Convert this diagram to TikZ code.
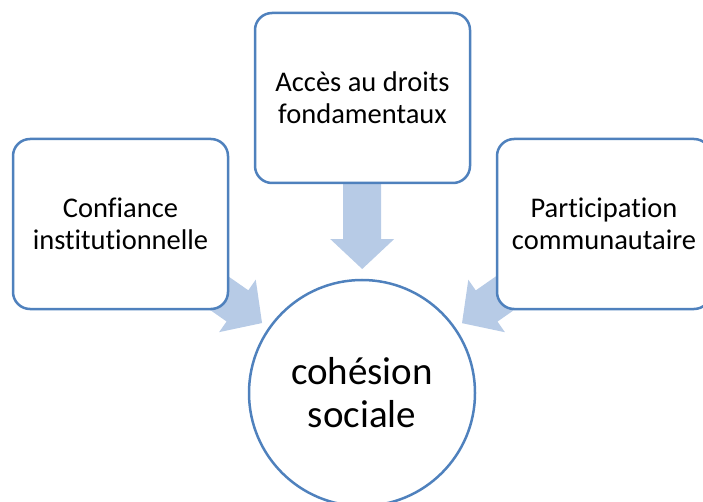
\documentclass[tikz,border=0pt]{standalone}
\usepackage{fontspec}
\setmainfont[RawFeature=-liga]{Carlito}
\usetikzlibrary{calc}
\pgfdeclarelayer{background}
\pgfsetlayers{background,main}
\definecolor{boxblue}{HTML}{4F81BD}
\definecolor{arrowblue}{HTML}{B7CBE6}
\tikzset{
  box/.style={draw=boxblue, line width=2.5pt, fill=white, rounded corners=17pt,
    minimum width=215pt, minimum height=170pt, align=center, inner sep=0pt,
    font=\fontsize{28.5}{32}\selectfont},
  hub/.style={draw=boxblue, line width=2.5pt, fill=white, circle, minimum size=226pt,
    align=center, inner sep=0pt, font=\fontsize{39}{43}\selectfont},
  blockarrow/.style={fill=arrowblue, draw=none}
}
\newcommand\blockarr[2]{%
  \fill[blockarrow, shift={(#1)}, rotate=#2]
    (0,0) -- (-30pt,32pt) -- (-30pt,19pt) -- (-85pt,19pt) -- (-85pt,-19pt)
    -- (-30pt,-19pt) -- (-30pt,-32pt) -- cycle;}
\begin{document}
\begin{tikzpicture}[x=1pt,y=1pt]
\useasboundingbox (0,0) rectangle (703,-502);
\clip (0,0) rectangle (703,-502);
\node[box] (conf) at (120.5,-224) {Confiance\\institutionnelle};
\node[box] (acces) at (362.5,-98) {Accès au droits\\fondamentaux};
\node[box, minimum width=214pt] (part) at (604,-224) {Participation\\communautaire};
\node[hub] (coh) at (362,-393) {cohésion\\sociale};
\begin{pgfonlayer}{background}
  \coordinate (tipL) at ($(coh.center)!122pt!(conf.center)$);
  \coordinate (tipT) at ($(coh.center)!124pt!(acces.center)$);
  \coordinate (tipR) at ($(coh.center)!122pt!(part.center)$);
  \blockarr{tipL}{-34.9}
  \blockarr{tipT}{-90}
  \blockarr{tipR}{-145.1}
\end{pgfonlayer}
\end{tikzpicture}
\end{document}
